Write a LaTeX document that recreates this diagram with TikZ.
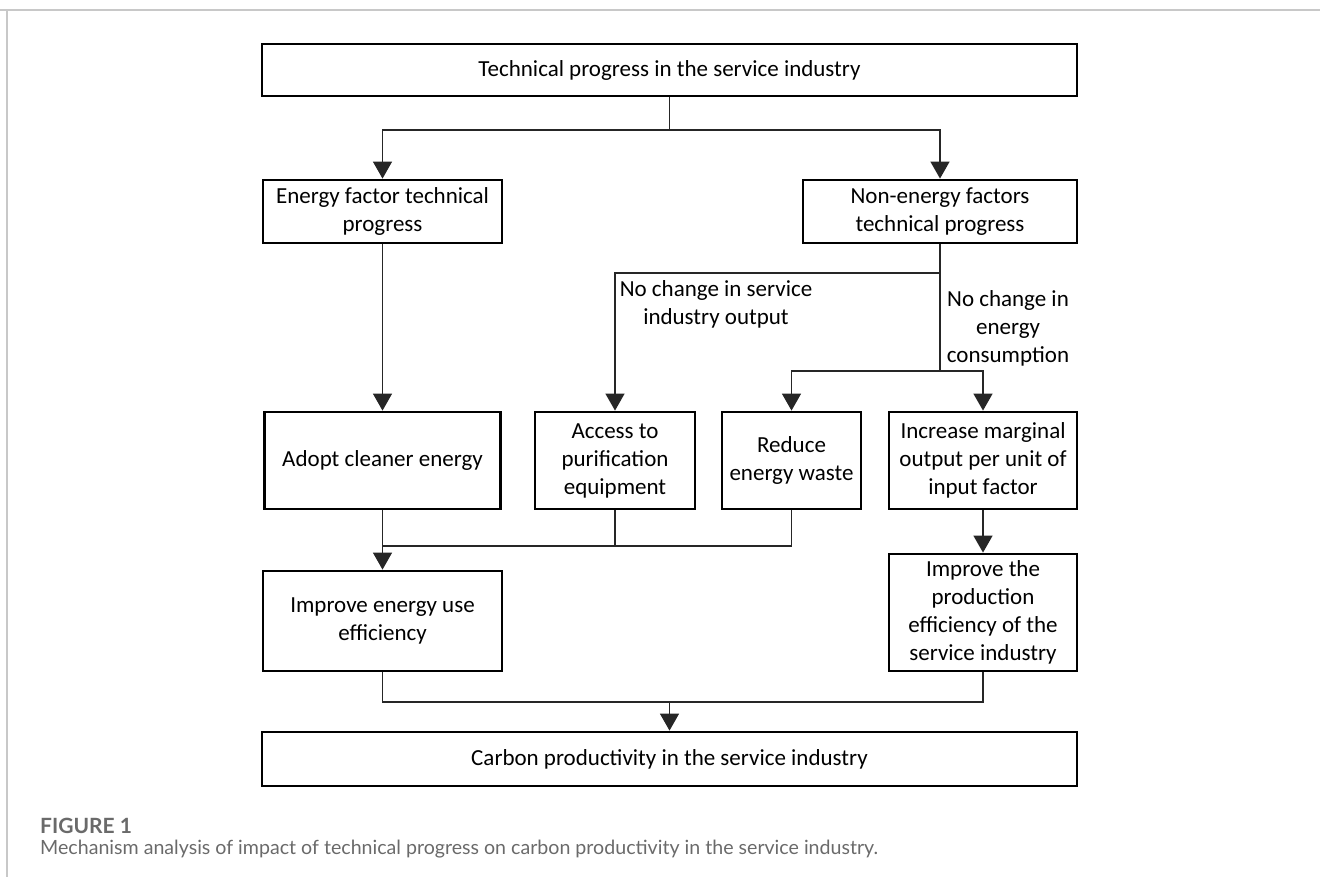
\documentclass[tikz,border=0pt]{standalone}
\usepackage{fontspec}
\setmainfont{Carlito}
\newfontfamily\capfont{Lato}
\usepackage{tikz}
\usetikzlibrary{arrows.meta,positioning,calc}
\tikzstyle{box}=[rectangle,draw=black,line width=2.8pt,align=center,inner sep=2pt,font=\fontsize{23}{28}\selectfont]
\tikzstyle{lbl}=[align=center,font=\fontsize{23}{28}\selectfont]
\tikzstyle{conn}=[line width=1.4pt,draw=black!85]
\tikzstyle{arrow}=[conn,-{Triangle[width=19pt,length=17pt]}]
\definecolor{capgray}{HTML}{6A6A6A}
\definecolor{framegray}{HTML}{C8C8C8}

\begin{document}
\begin{tikzpicture}[x=1pt,y=-1pt]

  \useasboundingbox (0,0) rectangle (1320,877);
  \draw[framegray,line width=1.5pt] (0,10) -- (1320,10);
  \draw[framegray,line width=1.5pt] (7,10) -- (7,877);

  % boxes
  \node[box,minimum width=815pt,minimum height=52pt] (tech) at (669.5,70) {Technical progress in the service industry};
  \node[box,minimum width=239pt,minimum height=63pt] (energy) at (382.5,211.5) {Energy factor technical\\progress};
  \node[box,minimum width=274pt,minimum height=63pt] (nonenergy) at (940,211.5) {Non-energy factors\\technical progress};
  \node[box,minimum width=236pt,minimum height=97pt] (adopt) at (382.5,460.5) {Adopt cleaner energy};
  \node[box,minimum width=160pt,minimum height=97pt] (access) at (615,460.5) {Access to\\purification\\equipment};
  \node[box,minimum width=139pt,minimum height=97pt] (reduce) at (791.5,460.5) {Reduce\\energy waste};
  \node[box,minimum width=188pt,minimum height=97pt] (increase) at (983,460.5) {Increase marginal\\output per unit of\\input factor};
  \node[box,minimum width=239pt,minimum height=100pt] (useeff) at (382.5,621) {Improve energy use\\efficiency};
  \node[box,minimum width=188pt,minimum height=117pt] (prodeff) at (983,612.5) {Improve the\\production\\efficiency of the\\service industry};
  \node[box,minimum width=815pt,minimum height=54pt] (carbon) at (669.5,759) {Carbon productivity in the service industry};

  % junctions
  \coordinate (split) at (669.5,130);
  \coordinate (outsplit) at (940,273);
  \coordinate (consplit) at (940,371);
  \coordinate (effjoin) at (382.5,546);
  \coordinate (carbjoin) at (669.5,702);

  \draw[conn] (tech) -- (split);
  \foreach \dest in {energy, nonenergy}
    \draw[arrow] (split) -| (\dest);

  \draw[arrow] (energy) -- (adopt);
  \draw[conn] (nonenergy) -- (consplit);
  \draw[arrow] (outsplit) -| (access);
  \foreach \dest in {reduce, increase}
    \draw[arrow] (consplit) -| (\dest);

  \draw[arrow] (adopt) -- (useeff);
  \foreach \source in {access, reduce}
    \draw[conn] (\source) |- (effjoin);
  \draw[arrow] (increase) -- (prodeff);

  \foreach \source in {useeff, prodeff}
    \draw[conn] (\source) |- (carbjoin);
  \draw[arrow] (carbjoin) -- (carbon);

  % branch labels
  \node[lbl] (outlbl) at (716,304) {No change in service\\industry output};
  \node[lbl] (conslbl) at (1008,328) {No change in\\energy\\consumption};

  % caption
  \node[anchor=west,inner sep=0pt,text=capgray,font=\capfont\bfseries\fontsize{21}{24}\selectfont] (fig) at (40,826) {FIGURE 1};
  \node[anchor=west,inner sep=0pt,text=capgray,font=\capfont\fontsize{19.6}{22}\selectfont] (cap) at (40,849) {Mechanism analysis of impact of technical progress on carbon productivity in the service industry.};

\end{tikzpicture}
\end{document}
